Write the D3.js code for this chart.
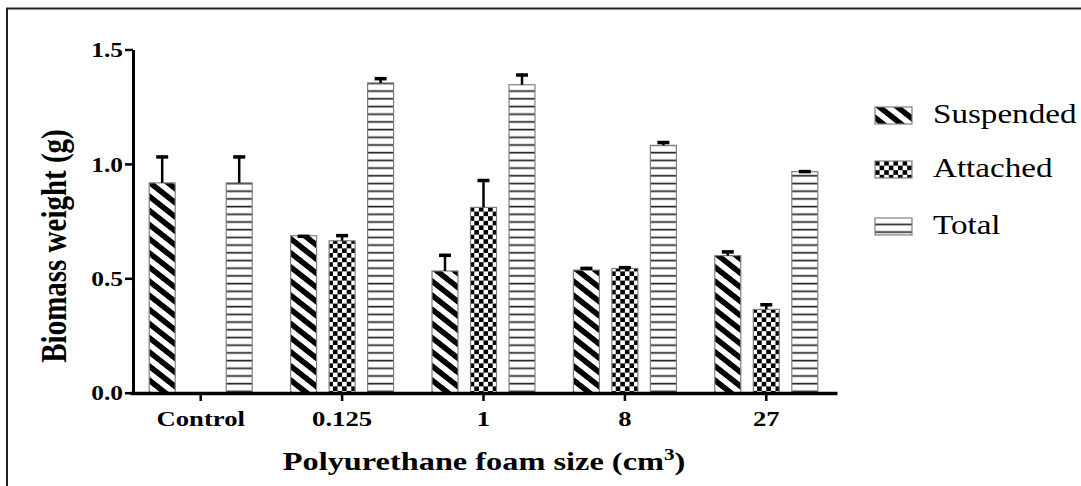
<!DOCTYPE html>
<html><head><meta charset="utf-8">
<script src="https://cdn.jsdelivr.net/npm/d3@7"></script>
<style>body{margin:0;background:#fff}svg{display:block}</style>
</head><body><svg id="c" width="1081" height="486"></svg>
<script>
const categories = ["Control","0.125","1","8","27"];
const seriesNames = ["Suspended","Attached","Total"];
const suspended = [0.917,0.686,0.532,0.536,0.599];
const suspendedErr = [0.120,0.004,0.075,0.014,0.023];
const attached = [null,0.664,0.810,0.543,0.364];
const attachedErr = [null,0.029,0.124,0.010,0.027];
const total = [0.917,1.354,1.346,1.081,0.966];
const totalErr = [0.120,0.025,0.049,0.019,0.007];
const yTicks = [0,0.5,1.0,1.5];
const yTickLabels = ["0.0","0.5","1.0","1.5"];
const xTitle = "Polyurethane foam size (cm";
const xTitleSup = "3";
const yTitle = "Biomass weight (g)";

const S = 1.27; // horizontal text stretch of the original
const serif = "'Liberation Serif','Times New Roman',serif";
const svg = d3.select("#c");
const defs = svg.append("defs");

// patterns
const pSus = defs.append("pattern").attr("id","pSus").attr("patternUnits","userSpaceOnUse")
  .attr("width",10).attr("height",10).attr("patternTransform",`scale(${S},1) rotate(-45)`);
pSus.append("rect").attr("width",10).attr("height",10).attr("fill","#fff");
pSus.append("rect").attr("width",5).attr("height",10).attr("fill","#000");

const c = 4.6;
const pAtt = defs.append("pattern").attr("id","pAtt").attr("patternUnits","userSpaceOnUse")
  .attr("width",2*c).attr("height",2*c);
pAtt.append("rect").attr("width",2*c).attr("height",2*c).attr("fill","#fff");
pAtt.append("rect").attr("width",c).attr("height",c).attr("fill","#000");
pAtt.append("rect").attr("x",c).attr("y",c).attr("width",c).attr("height",c).attr("fill","#000");

const pTot = defs.append("pattern").attr("id","pTot").attr("patternUnits","userSpaceOnUse")
  .attr("width",10).attr("height",7.7).attr("y",0);
pTot.append("rect").attr("width",10).attr("height",7.7).attr("fill","#fff");
pTot.append("line").attr("x1",0).attr("x2",10).attr("y1",6.4).attr("y2",6.4)
  .attr("stroke","#222").attr("stroke-width",1.7);

const fills = {Suspended:"url(#pSus)", Attached:"url(#pAtt)", Total:"url(#pTot)"};
const seriesVals = {Suspended:suspended, Attached:attached, Total:total};
const seriesErr = {Suspended:suspendedErr, Attached:attachedErr, Total:totalErr};

// frame
svg.append("path").attr("d","M7,486 V8.5 H1081").attr("fill","none").attr("stroke","#222").attr("stroke-width",2);

const x0 = d3.scaleBand().domain(categories).range([130,837]).paddingInner(0).paddingOuter(0);
const x1 = d3.scaleBand().domain(seriesNames).range([-51.5,51.5]).paddingInner(0.325).paddingOuter(0);
const y = d3.scaleLinear().domain([0,1.5]).range([392.7,49.5]);

const rows = categories.map((cat,i)=>({cat, bars: seriesNames.map(s=>({s, v:seriesVals[s][i], e:seriesErr[s][i]})).filter(b=>b.v!=null)}));

const g = svg.selectAll("g.grp").data(rows).join("g").attr("class","grp")
  .attr("transform",d=>`translate(${x0(d.cat)+x0.bandwidth()/2},0)`);
g.selectAll("rect").data(d=>d.bars).join("rect")
  .attr("x",d=>x1(d.s)).attr("width",x1.bandwidth())
  .attr("y",d=>y(d.v)).attr("height",d=>y(0)-y(d.v))
  .attr("fill",d=>fills[d.s]).attr("stroke","#808080").attr("stroke-width",1.2);
// error bars
g.selectAll("line.stem").data(d=>d.bars).join("line").attr("class","stem")
  .attr("x1",d=>x1(d.s)+x1.bandwidth()/2).attr("x2",d=>x1(d.s)+x1.bandwidth()/2)
  .attr("y1",d=>y(d.v)).attr("y2",d=>y(d.v+d.e)).attr("stroke","#000").attr("stroke-width",2.5);
g.selectAll("line.cap").data(d=>d.bars).join("line").attr("class","cap")
  .attr("x1",d=>x1(d.s)+x1.bandwidth()/2-6).attr("x2",d=>x1(d.s)+x1.bandwidth()/2+6)
  .attr("y1",d=>y(d.v+d.e)+1.5).attr("y2",d=>y(d.v+d.e)+1.5).attr("stroke","#000").attr("stroke-width",3.5);

// axes
const yAx = svg.append("g").attr("transform","translate(133,0)")
  .call(d3.axisLeft(y).tickValues(yTicks).tickFormat((d,i)=>yTickLabels[i]).tickSize(8).tickSizeOuter(0).tickPadding(3));
yAx.select(".domain").attr("stroke","#000").attr("stroke-width",3);
yAx.selectAll(".tick line").attr("stroke","#000").attr("stroke-width",2.5);
yAx.selectAll(".tick text").attr("font-family",serif).attr("font-weight","bold").attr("font-size",20)
  .attr("fill","#000").attr("x",-10/S).attr("dy","0.36em").attr("transform",`scale(${S},1)`);

const xAx = svg.append("g").attr("transform","translate(0,393)")
  .call(d3.axisBottom(x0).tickSize(8).tickSizeOuter(0).tickPadding(10));
xAx.select(".domain").attr("stroke","#000").attr("stroke-width",3.5);
xAx.selectAll(".tick line").attr("stroke","#000").attr("stroke-width",2.5);
xAx.selectAll(".tick text").attr("font-family",serif).attr("font-weight","bold").attr("font-size",21)
  .attr("fill","#000").attr("transform",`scale(${S},1)`).attr("x",0);

// titles
const xt = svg.append("text").attr("transform",`translate(484,470) scale(${S*0.98},1)`)
  .attr("text-anchor","middle").attr("font-family",serif).attr("font-weight","bold").attr("font-size",26).attr("fill","#000");
xt.append("tspan").text(xTitle);
xt.append("tspan").attr("dy",-10).attr("font-size",17).text(xTitleSup);
xt.append("tspan").attr("dy",10).text(")");

svg.append("text").attr("transform",`translate(66,246) scale(${S},1) rotate(-90)`)
  .attr("text-anchor","middle").attr("font-family",serif).attr("font-weight","bold").attr("font-size",29)
  .attr("fill","#000").text(yTitle);

// legend
const legY = [107,161,218];
const lg = svg.selectAll("g.leg").data(seriesNames).join("g").attr("class","leg")
  .attr("transform",(d,i)=>`translate(875,${legY[i]})`);
lg.append("rect").attr("width",37).attr("height",17).attr("fill",d=>fills[d]).attr("stroke","#808080").attr("stroke-width",1.2);
lg.append("text").attr("transform",`translate(58,16) scale(1.25,1)`).attr("font-family",serif).attr("font-size",26.5)
  .attr("fill","#000").text(d=>d);
</script></body></html>
